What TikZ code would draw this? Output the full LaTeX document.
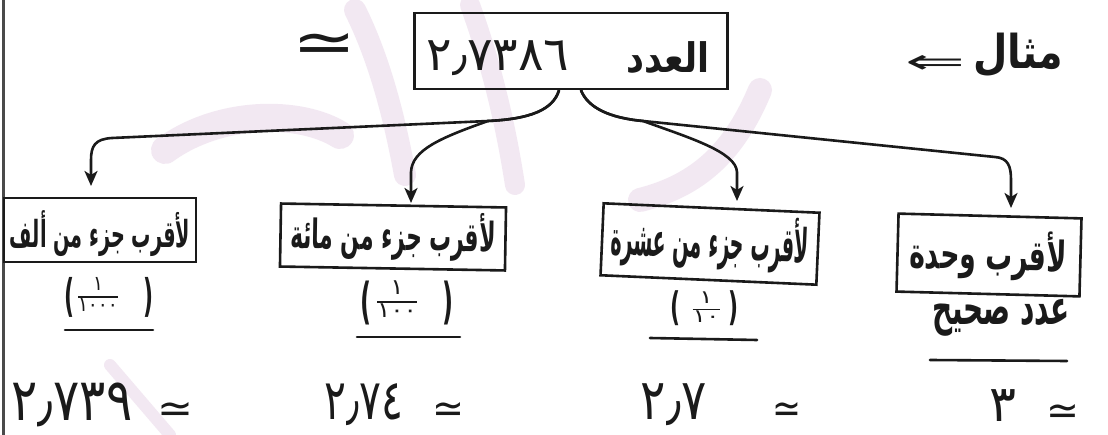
\documentclass[tikz,border=0pt]{standalone}
\usepackage{fontspec}
\usepackage{graphicx}
\usetikzlibrary{arrows.meta}
\TeXXeTstate=1
\newfontfamily\arabicfont[Script=Arabic]{DejaVu Sans}
\newfontfamily\symfont{DejaVu Sans}
\definecolor{ink}{HTML}{1A1A1A}
\definecolor{wmpink}{HTML}{DCBEDC}
\definecolor{edgegray}{HTML}{4A4A4A}
% scale a piece of text to an exact width and total height
\newcommand{\fitt}[3]{\resizebox*{#1}{#2}{#3}}
% numerator over denominator with a bar between them
\newcommand{\fracstack}[2]{{\fontsize{30}{30}\selectfont\renewcommand\arraystretch{0.6}\setlength{\arrayrulewidth}{2.6pt}\begin{tabular}{@{}c@{}}#1\\[3pt]\hline\rule{0pt}{20pt}#2\end{tabular}}}
\tikzset{
  box/.style={draw=ink, line width=2.6pt, inner sep=0pt},
  lbl/.style={inner sep=0pt, font=\arabicfont\bfseries, text=ink},
  digits/.style={inner sep=0pt, font=\arabicfont\mdseries, text=ink},
  paren/.style={inner sep=0pt, font=\symfont\bfseries, text=ink},
  conn/.style={draw=ink, line width=2.6pt, line cap=round, line join=round,
    -{Stealth[length=15pt,width=13pt,inset=4pt]}},
  uline/.style={draw=ink, line width=2.6pt, line cap=round},
  wm/.style={draw=wmpink, line cap=round, opacity=0.35},
}
\begin{document}
\begin{tikzpicture}[x=1pt, y=-1pt]
\useasboundingbox (0,0) rectangle (1108,435);
\fill[white] (0,0) rectangle (1108,435);

% faint watermark strokes
\draw[wm, line width=28pt] (165,150) .. controls (220,110) and (300,110) .. (340,135);
\draw[wm, line width=22pt] (355,10) .. controls (380,60) and (395,120) .. (405,175);
\draw[wm, line width=20pt] (470,5) .. controls (490,60) and (505,120) .. (515,185);
\draw[wm, line width=24pt] (760,90) .. controls (735,150) and (700,185) .. (640,200);
\draw[wm, line width=12pt] (110,365) -- (170,435);

% page edge
\draw[edgegray, line width=3pt] (3,0) -- (3,435);

% the number
\node[box, minimum width=313pt, minimum height=76pt] (num) at (571,51) {};
\node[digits] (numval) at (498,58) {\fitt{143pt}{35pt}{٢٫٧٣٨٦}};
\node[lbl] (numword) at (668,58) {\fitt{83pt}{32pt}{العدد}};
\node[lbl] (simtop) at (325,48) {\fitt{64pt}{29pt}{\symfont\mdseries ≃}};
\node[lbl] (exword) at (1018,55) {\fitt{90pt}{44pt}{مثال}};
\node[lbl] (exarrow) at (935,65) {\fitt{60pt}{18pt}{\symfont\mdseries ⇐}};

% the four roundings
\node[box, minimum width=192pt, minimum height=64pt] (b1) at (100,230) {};
\node[lbl] (l1) at (100,234) {\fitt{180pt}{46pt}{\beginR لأقرب جزء من ألف\endR}};
\node[box, minimum width=225pt, minimum height=63pt, rotate=-1] (b2) at (393,237) {};
\node[lbl, rotate=-1] (l2) at (393,236) {\fitt{205pt}{48pt}{\beginR لأقرب جزء من مائة\endR}};
\node[box, minimum width=216pt, minimum height=72pt, rotate=-2.5] (b3) at (710,244) {};
\node[lbl, rotate=-2.5] (l3) at (710,242) {\fitt{198pt}{56pt}{\beginR لأقرب جزء من عشرة\endR}};
\node[box, minimum width=183pt, minimum height=78pt, rotate=-1.5] (b4) at (989,255) {};
\node[lbl, rotate=-1.5] (l4) at (988,255) {\fitt{157pt}{50pt}{\beginR لأقرب وحدة\endR}};

% (1/1000)
\node[paren] (f1l) at (69,297) {\fitt{10pt}{40pt}{(}};
\node[paren] (f1r) at (148,297) {\fitt{10pt}{40pt}{)}};
\node[digits] (f1q) at (98,296) {\fitt{40pt}{38pt}{\fracstack{١}{١٠٠٠}}};
% (1/100)
\node[paren] (f2l) at (366,303) {\fitt{11pt}{44pt}{(}};
\node[paren] (f2r) at (448,303) {\fitt{11pt}{44pt}{)}};
\node[digits] (f2q) at (397,301) {\fitt{40pt}{40pt}{\fracstack{١}{١٠٠}}};
% (1/10)
\node[paren] (f3l) at (675,308) {\fitt{10pt}{35pt}{(}};
\node[paren] (f3r) at (733,308) {\fitt{10pt}{35pt}{)}};
\node[digits] (f3q) at (706,309) {\fitt{27pt}{34pt}{\fracstack{١}{١٠}}};
% whole number
\node[lbl] (f4) at (1001,318) {\fitt{138pt}{37pt}{\beginR عدد صحيح\endR}};

\draw[uline] (65,330) -- (153,330);
\draw[uline] (357,337) -- (460,337);
\draw[uline] (650,338) -- (757,340);
\draw[uline] (930,360) -- (1067,361);

% results
\node[digits] (r1) at (72,405) {\fitt{121pt}{44pt}{٢٫٧٣٩}};
\node[lbl] (s1) at (175,412) {\fitt{36pt}{20pt}{\symfont\mdseries ≃}};
\node[digits] (r2) at (364,405) {\fitt{79pt}{42pt}{٢٫٧٤}};
\node[lbl] (s2) at (448,412) {\fitt{32pt}{20pt}{\symfont\mdseries ≃}};
\node[digits] (r3) at (674,405) {\fitt{66pt}{42pt}{٢٫٧}};
\node[lbl] (s3) at (787,412) {\fitt{29pt}{20pt}{\symfont\mdseries ≃}};
\node[digits] (r4) at (1003,406) {\resizebox{27pt}{!}{٣}};
\node[lbl] (s4) at (1063,414) {\fitt{33pt}{20pt}{\symfont\mdseries ≃}};

% arrow ends above the boxes
\coordinate (tip1) at (91,186);
\coordinate (tip2) at (411,203);
\coordinate (tip3) at (737,201);
\coordinate (tip4) at (1011,208);

% connectors
\draw[conn] ([xshift=-12pt]num.south) .. controls (553,110) and (530,119) .. (488,121)
  -- (112,138) .. controls (95,139) and (91,146) .. (91,160) -- (tip1);
\draw[conn] ([xshift=-12pt]num.south) .. controls (553,110) and (530,119) .. (488,121)
  .. controls (440,138) and (412,150) .. (411,172) -- (tip2);
\draw[conn] ([xshift=10pt]num.south) .. controls (588,108) and (610,118) .. (643,121)
  .. controls (690,138) and (736,152) .. (737,172) -- (tip3);
\draw[conn] ([xshift=10pt]num.south) .. controls (588,108) and (610,118) .. (643,121)
  -- (995,157) .. controls (1008,158) and (1011,166) .. (1011,180) -- (tip4);
\end{tikzpicture}
\end{document}
